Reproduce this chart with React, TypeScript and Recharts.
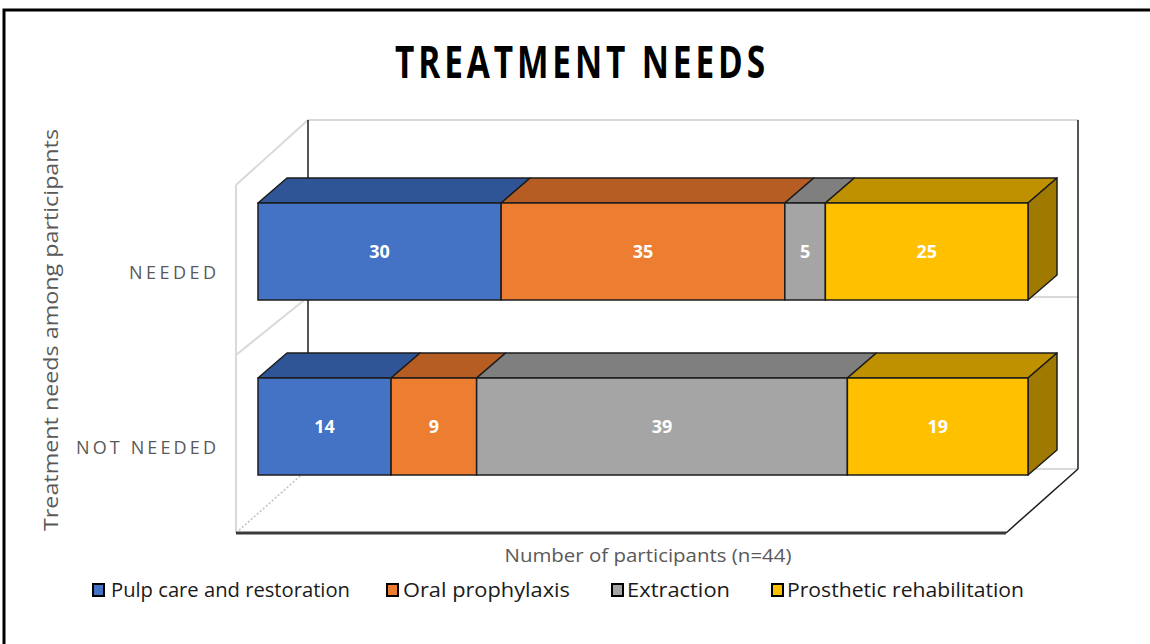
import { BarChart, Bar, XAxis, YAxis, LabelList } from 'recharts';

const categories = ['NEEDED', 'NOT NEEDED'];
const pulpCare = [30, 14];
const oralProphylaxis = [35, 9];
const extraction = [5, 39];
const prosthetic = [25, 19];
const seriesNames = ['Pulp care and restoration', 'Oral prophylaxis', 'Extraction', 'Prosthetic rehabilitation'];

const data = categories.map((name, i) => ({
  name,
  pulp: pulpCare[i],
  oral: oralProphylaxis[i],
  extraction: extraction[i],
  prosthetic: prosthetic[i],
}));

const series = [
  { key: 'pulp', name: seriesNames[0], front: '#4472C4', top: '#2F5597', side: '#2F5597' },
  { key: 'oral', name: seriesNames[1], front: '#ED7D31', top: '#B55D23', side: '#B55D23' },
  { key: 'extraction', name: seriesNames[2], front: '#A5A5A5', top: '#7F7F7F', side: '#7F7F7F' },
  { key: 'prosthetic', name: seriesNames[3], front: '#FFC000', top: '#BF9000', side: '#A07A00' },
];

const FONT = "'Open Sans', 'DejaVu Sans', sans-serif";
const GREY = '#595959';
const EDGE = '#1c1c1c';

// bar depth (3d look)
const DX = 29;
const DY = -25;

function makeBox(top: string, side: string, last: boolean) {
  return (props: any) => {
    const { x, y, width, height, fill } = props;
    if (width == null || height == null) return null;
    return (
      <g>
        <polygon
          points={`${x},${y} ${x + DX},${y + DY} ${x + width + DX},${y + DY} ${x + width},${y}`}
          fill={top}
          stroke={EDGE}
          strokeWidth={1.5}
          strokeLinejoin="round"
        />
        {last && (
          <polygon
            points={`${x + width},${y} ${x + width + DX},${y + DY} ${x + width + DX},${y + height + DY} ${x + width},${y + height}`}
            fill={side}
            stroke={EDGE}
            strokeWidth={1.5}
            strokeLinejoin="round"
          />
        )}
        <rect x={x} y={y} width={width} height={height} fill={fill} stroke={EDGE} strokeWidth={1.5} />
      </g>
    );
  };
}

const CategoryTick = (props: any) => {
  const { x, y, payload } = props;
  const len = payload.value === 'NEEDED' ? 87 : 140;
  return (
    <text
      x={x - 34}
      y={y + 27}
      textAnchor="end"
      fill={GREY}
      fontSize={18}
      fontFamily={FONT}
      textLength={len}
      lengthAdjust="spacing"
    >
      {payload.value}
    </text>
  );
};

const legendPos = [
  { sq: 93, tx: 111, len: 239 },
  { sq: 387, tx: 403, len: 167 },
  { sq: 612, tx: 627, len: 103 },
  { sq: 772, tx: 787, len: 237 },
];

function Walls() {
  const light = '#d9d9d9';
  return (
    <g>
      {/* back wall */}
      <line x1={308} y1={120} x2={1078} y2={120} stroke={light} strokeWidth={2} />
      <line x1={308} y1={297} x2={1078} y2={297} stroke={light} strokeWidth={2} />
      <line x1={308} y1={469} x2={1078} y2={469} stroke={light} strokeWidth={2} />
      {/* left side wall */}
      <line x1={236} y1={185} x2={308} y2={120} stroke={light} strokeWidth={2} />
      <line x1={236} y1={355} x2={308} y2={297} stroke={light} strokeWidth={2} />
      <line x1={236} y1={185} x2={236} y2={533} stroke={light} strokeWidth={2} />
      <line x1={236} y1={533} x2={308} y2={469} stroke="#bfbfbf" strokeWidth={1.5} strokeDasharray="2 2" />
      {/* edges */}
      <line x1={308} y1={120} x2={308} y2={469} stroke={EDGE} strokeWidth={1.5} />
      <line x1={1078} y1={120} x2={1078} y2={469} stroke={EDGE} strokeWidth={1.5} />
      <line x1={236} y1={533} x2={1006} y2={533} stroke="#3a3a3a" strokeWidth={3} />
      <line x1={1006} y1={533} x2={1078} y2={469} stroke={EDGE} strokeWidth={1.5} />
    </g>
  );
}

export default function App() {
  return (
    <div style={{ position: 'absolute', left: 0, top: 0, width: 1150, height: 644, background: '#fff' }}>
      <svg width={1150} height={644} style={{ position: 'absolute', left: 0, top: 0 }}>
        <rect x={4} y={10} width={1160} height={650} fill="none" stroke="#000" strokeWidth={3} />
        <g transform="translate(580, 78) scale(0.76, 1)">
          <text
            x={0}
            y={0}
            textAnchor="middle"
            fontSize={44}
            fontWeight={700}
            fontFamily={FONT}
            fill="#000"
            textLength={487}
            lengthAdjust="spacing"
          >
            TREATMENT  NEEDS
          </text>
        </g>
        <Walls />
        <text
          x={648}
          y={562}
          textAnchor="middle"
          fontSize={19}
          fontFamily={FONT}
          fill={GREY}
          textLength={287}
          lengthAdjust="spacingAndGlyphs"
        >
          Number of participants (n=44)
        </text>
        <text
          transform="translate(58, 330) rotate(-90)"
          textAnchor="middle"
          fontSize={20}
          fontFamily={FONT}
          fill={GREY}
          textLength={402}
          lengthAdjust="spacingAndGlyphs"
        >
          Treatment needs among participants
        </text>
        {series.map((s, i) => (
          <g key={s.key}>
            <rect x={legendPos[i].sq} y={584} width={11} height={12} fill={s.front} stroke="#000" strokeWidth={2} />
            <text
              x={legendPos[i].tx}
              y={597}
              fontSize={20}
              fontFamily={FONT}
              fill="#1a1a1a"
              textLength={legendPos[i].len}
              lengthAdjust="spacingAndGlyphs"
            >
              {s.name}
            </text>
          </g>
        ))}
      </svg>
      <div style={{ position: 'absolute', left: 0, top: 0 }}>
        <BarChart
          width={1150}
          height={644}
          data={data}
          layout="vertical"
          stackOffset="expand"
          barSize={97}
          margin={{ top: 164, right: 122, bottom: 130, left: 108 }}
        >
          <XAxis type="number" hide domain={[0, 1]} />
          <YAxis
            type="category"
            dataKey="name"
            width={150}
            axisLine={false}
            tickLine={false}
            tick={<CategoryTick />}
          />
          {series.map((s, i) => (
            <Bar
              key={s.key}
              dataKey={s.key}
              name={s.name}
              stackId="a"
              fill={s.front}
              isAnimationActive={false}
              shape={makeBox(s.top, s.side, i === series.length - 1)}
            >
              <LabelList
                dataKey={s.key}
                position="center"
                fill="#ffffff"
                fontSize={18}
                fontWeight={700}
                fontFamily={FONT}
              />
            </Bar>
          ))}
        </BarChart>
      </div>
    </div>
  );
}
